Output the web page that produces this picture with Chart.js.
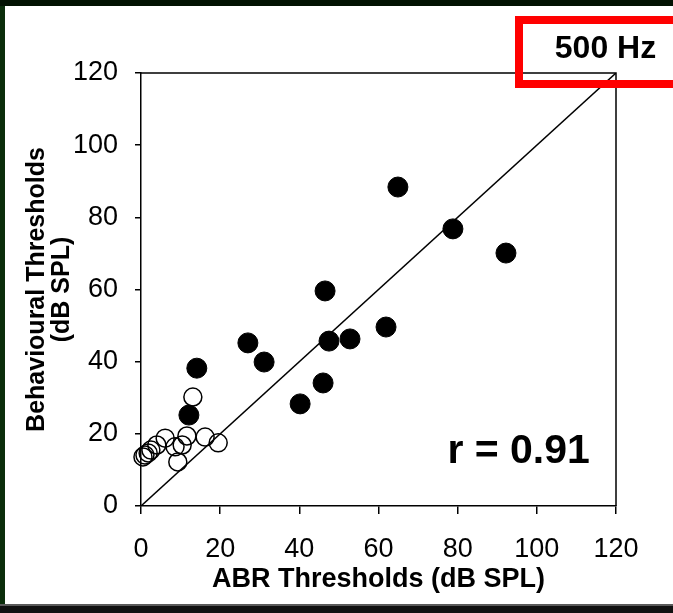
<!DOCTYPE html>
<html>
<head>
<meta charset="utf-8">
<script src="https://cdn.jsdelivr.net/npm/chart.js@4.4.1/dist/chart.umd.min.js"></script>
<style>
  html, body { margin: 0; padding: 0; }
  body { width: 673px; height: 613px; background: #0b2e0b; position: relative; overflow: hidden; }
  #topband { position: absolute; left: 0; top: 0; width: 673px; height: 6px; background: #021202; }
  #bottomband { position: absolute; left: 0; top: 604px; width: 673px; height: 9px; background: #111; border-top: 2px solid #5a5a5a; }
  #panel { position: absolute; left: 5px; top: 6px; width: 668px; height: 598px; background: #fff; }
</style>
</head>
<body>
<div id="topband"></div>
<div id="panel"><canvas id="grafico" width="668" height="598"></canvas></div>
<div id="bottomband"></div>
<script>
// Limiares (dB SPL)
const abrCheios = [64.9, 78.8, 92.2, 46.5, 27.0, 31.1, 47.5, 52.8, 61.9, 46.0, 40.2, 14.1, 12.1];
const compCheios = [88.4, 76.8, 70.1, 59.6, 45.2, 39.9, 45.7, 46.3, 49.6, 34.1, 28.3, 38.2, 25.2];

const abrAbertos = [0.5, 1.0, 1.8, 2.5, 4.0, 6.1, 8.6, 9.3, 10.4, 11.6, 16.2, 19.5, 13.1];
const compAbertos = [13.6, 14.1, 14.7, 15.5, 16.9, 18.8, 16.4, 12.2, 16.9, 19.4, 19.1, 17.5, 30.2];

const linhaIdentidade = [0, 120];
const ticksEixo = [0, 20, 40, 60, 80, 100, 120];

const paraPontos = (xs, ys) => xs.map((x, i) => ({ x: x, y: ys[i] }));

const fonte = "'Liberation Sans', Arial, sans-serif";

// moldura superior/direita + textos extras
const extras = {
  id: 'extras',
  afterDraw(chart) {
    const { ctx, chartArea: a, scales } = chart;
    ctx.save();
    ctx.strokeStyle = '#000';
    ctx.lineWidth = 1.5;
    ctx.beginPath();
    ctx.moveTo(a.left, a.top);
    ctx.lineTo(a.right, a.top);
    ctx.lineTo(a.right, a.bottom);
    ctx.stroke();

    // r = 0.91
    ctx.fillStyle = '#000';
    ctx.font = 'bold 41px ' + fonte;
    ctx.textAlign = 'center';
    ctx.textBaseline = 'middle';
    ctx.fillText('r = 0.91', scales.x.getPixelForValue(95.4), scales.y.getPixelForValue(15));

    // caixa vermelha "500 Hz"
    ctx.strokeStyle = '#ff0000';
    ctx.lineWidth = 8;
    ctx.strokeRect(514, 14, 200, 64);
    ctx.font = 'bold 32px ' + fonte;
    ctx.fillText('500 Hz', 600.5, 43);
    ctx.restore();
  }
};

new Chart(document.getElementById('grafico'), {
  type: 'scatter',
  data: {
    datasets: [
      {
        type: 'line',
        data: paraPontos(linhaIdentidade, linhaIdentidade),
        borderColor: '#000',
        borderWidth: 1.5,
        pointRadius: 0,
        fill: false,
        order: 3
      },
      {
        data: paraPontos(abrAbertos, compAbertos),
        backgroundColor: 'rgba(255,255,255,0)',
        borderColor: '#000',
        borderWidth: 1.5,
        pointRadius: 9,
        clip: false,
        order: 2
      },
      {
        data: paraPontos(abrCheios, compCheios),
        backgroundColor: '#000',
        borderColor: '#000',
        borderWidth: 1,
        pointRadius: 10,
        clip: false,
        order: 1
      }
    ]
  },
  options: {
    responsive: false,
    animation: false,
    devicePixelRatio: 1,
    layout: { padding: { left: 0, top: 67, right: 57, bottom: 0 } },
    plugins: {
      legend: { display: false },
      tooltip: { enabled: false }
    },
    scales: {
      x: {
        type: 'linear',
        min: 0,
        max: 120,
        afterFit: s => { s.height = 98; },
        afterBuildTicks: s => { s.ticks = ticksEixo.map(v => ({ value: v })); },
        grid: { drawOnChartArea: false, drawTicks: true, tickLength: 8, color: '#000', lineWidth: 1.5 },
        border: { display: true, color: '#000', width: 1.5 },
        ticks: { color: '#000', font: { family: fonte, size: 27 }, padding: 19, maxRotation: 0 },
        title: {
          display: true,
          text: 'ABR Thresholds (dB SPL)',
          color: '#000',
          font: { family: fonte, size: 27, weight: 'bold' },
          padding: { top: 0, bottom: 8 }
        }
      },
      y: {
        type: 'linear',
        min: 0,
        max: 120,
        afterFit: s => { s.width = 136; },
        afterBuildTicks: s => { s.ticks = ticksEixo.map(v => ({ value: v })); },
        grid: { drawOnChartArea: false, drawTicks: true, tickLength: 6, color: '#000', lineWidth: 1.5 },
        border: { display: true, color: '#000', width: 1.5 },
        ticks: { color: '#000', font: { family: fonte, size: 27 }, padding: 17 },
        title: {
          display: true,
          text: ['Behavioural Thresholds', '(dB SPL)'],
          color: '#000',
          font: { family: fonte, size: 25, weight: 'bold', lineHeight: 1.0 },
          padding: { top: 20, bottom: 0 }
        }
      }
    }
  },
  plugins: [extras]
});
</script>
</body>
</html>
